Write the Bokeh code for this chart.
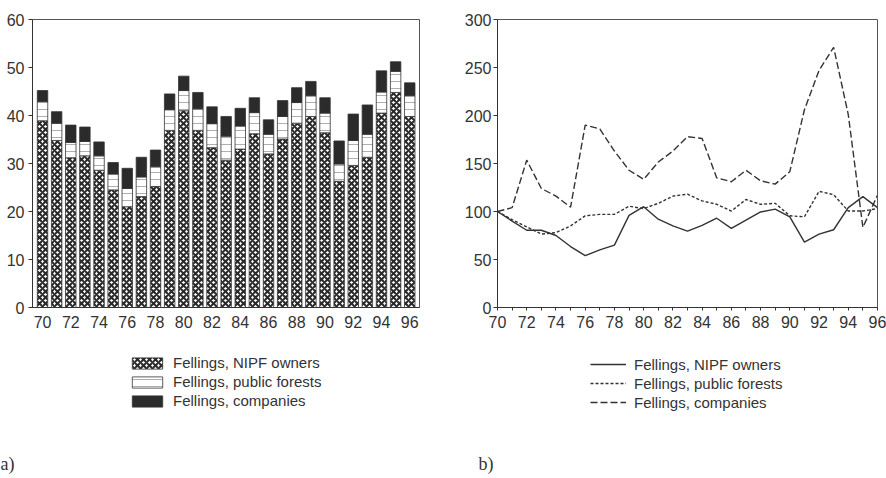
from bokeh.plotting import figure
from bokeh.layouts import row, column
from bokeh.models import (ColumnDataSource, Range1d, FixedTicker, Legend,
                          LegendItem, Label)
from bokeh.embed import file_html
from bokeh.resources import INLINE

# Years 1970-1996, shown as two-digit labels
years = list(range(70, 97))
x_ticks = list(range(70, 97, 2))
x_minor = list(range(71, 96, 2))

# Panel a) fellings by owner group (stacked)
nipf = [38.9, 34.8, 31.2, 31.6, 28.6, 24.5, 21.0, 23.1, 25.2, 36.9, 41.0, 36.9,
        33.3, 30.7, 33.0, 36.2, 32.0, 35.1, 38.4, 39.8, 36.4, 26.3, 29.6, 31.3,
        40.5, 44.8, 39.8]
public = [4.0, 3.6, 3.2, 3.0, 3.0, 3.3, 3.8, 4.1, 4.1, 4.3, 4.2, 4.5, 5.0, 5.0,
          4.8, 4.4, 4.1, 4.7, 4.3, 4.3, 4.1, 3.6, 5.2, 4.8, 4.4, 4.4, 4.3]
companies = [2.3, 2.4, 3.6, 3.0, 2.9, 2.4, 4.2, 4.1, 3.5, 3.3, 3.0, 3.4, 3.5,
             4.1, 3.7, 3.1, 3.0, 3.3, 3.1, 3.0, 3.2, 4.8, 5.5, 6.1, 4.4, 2.0, 2.7]
a_yticks = [0, 10, 20, 30, 40, 50, 60]

# Panel b) index series, 1970 = 100
idx_nipf = [100, 90, 80.5, 80.5, 75, 63.5, 54, 60, 65, 96, 105, 92, 85, 79.5,
            85.5, 93, 82.5, 91, 99.5, 102.5, 94.5, 68, 76.5, 81, 104, 115.5, 104]
idx_public = [100, 91.5, 84, 76.5, 78, 85, 95.5, 97, 97, 105.5, 103, 108.5,
              116, 118, 111, 107.5, 100.5, 112.5, 107.5, 108.5, 95.5, 94.5,
              121, 117.5, 100.5, 100.5, 103]
idx_companies = [100, 104, 153.5, 124, 116, 104.5, 190, 186, 163, 143, 133.5,
                 151.5, 163, 178, 176, 135, 131, 143, 132, 128.5, 141.5, 206,
                 247, 271, 201, 83.5, 117]
b_yticks = [0, 50, 100, 150, 200, 250, 300]

labels = ["Fellings, NIPF owners", "Fellings, public forests",
          "Fellings, companies"]

FONT = "Liberation Sans"
SERIF = "Liberation Serif"
INK = "#333333"
NAN = float("nan")

# fill / hatch styles of the three owner groups
bar_styles = [
    dict(fill_color="white", hatch_pattern="diagonal_cross",
         hatch_color="#2a2a2a", hatch_scale=6, hatch_weight=2.0),
    dict(fill_color="white", hatch_pattern="horizontal_line",
         hatch_color="#9a9a9a", hatch_scale=7, hatch_weight=0.8),
    dict(fill_color="#2b2b2b", hatch_pattern="blank",
         hatch_color="#2b2b2b", hatch_scale=6, hatch_weight=1),
]
line_styles = [dict(line_dash="solid"), dict(line_dash="3 2"),
               dict(line_dash="7 3")]


def base_style(p):
    p.xgrid.visible = False
    p.ygrid.visible = False
    p.outline_line_color = "#555555"
    p.outline_line_width = 1
    p.background_fill_color = "white"
    p.border_fill_color = "white"
    for ax in p.axis:
        ax.axis_line_color = INK
        ax.axis_line_width = 1
        ax.major_tick_line_color = INK
        ax.minor_tick_line_color = INK
        ax.major_label_text_font = FONT
        ax.major_label_text_font_size = "16px"
        ax.major_label_text_color = INK
        ax.minor_tick_in = 0
        ax.minor_tick_out = 0


def key_panel(width):
    # blank strip under a chart that carries its legend and panel tag
    k = figure(width=width, height=138, title=None,
               x_range=Range1d(0, 1), y_range=Range1d(0, 1),
               output_backend="svg", toolbar_location=None,
               min_border=0, x_axis_location=None, y_axis_location=None)
    k.xgrid.visible = False
    k.ygrid.visible = False
    k.outline_line_color = None
    k.background_fill_color = "white"
    k.border_fill_color = "white"
    return k


def make_legend(items, loc, glyph_w, standoff):
    return Legend(items=items, location=loc, margin=0, padding=0, spacing=0,
                  glyph_width=glyph_w, glyph_height=14, label_height=19,
                  label_standoff=standoff, border_line_color=None,
                  background_fill_alpha=0,
                  label_text_font=FONT, label_text_font_size="15px",
                  label_text_color=INK)


def panel_tag(text, x, y):
    return Label(text=text, x=x, y=y, x_units="screen", y_units="screen",
                 text_font=SERIF, text_font_size="18px", text_color=INK,
                 text_baseline="alphabetic", text_align="left")


# ---- a) stacked bars ----
pa = figure(width=450, height=340, title=None,
            x_range=Range1d(69.29, 96.69), y_range=Range1d(0, 60),
            output_backend="svg", toolbar_location=None,
            min_border_left=32, min_border_right=31,
            min_border_top=12, min_border_bottom=33)
base_style(pa)
pa.xaxis.ticker = FixedTicker(ticks=x_ticks)
pa.xaxis.major_tick_in = 0
pa.xaxis.major_tick_out = 0
pa.xaxis.major_label_standoff = 8
pa.yaxis.ticker = FixedTicker(ticks=a_yticks)
pa.yaxis.major_tick_in = 0
pa.yaxis.major_tick_out = 4
pa.yaxis.major_label_standoff = 4

src = ColumnDataSource(dict(year=years, nipf=nipf, public=public,
                            companies=companies))
pa.vbar_stack(["nipf", "public", "companies"], x="year", width=0.74,
              source=src, line_color=INK, line_width=0.8,
              fill_color=[s["fill_color"] for s in bar_styles],
              hatch_pattern=[s["hatch_pattern"] for s in bar_styles],
              hatch_color=[s["hatch_color"] for s in bar_styles],
              hatch_scale=[s["hatch_scale"] for s in bar_styles],
              hatch_weight=[s["hatch_weight"] for s in bar_styles])

# legend carriers: one undrawn (NaN) row each, only their styles are used
ka = key_panel(450)
key_bars = [ka.vbar(x=[NAN], top=[NAN], width=0.5, line_color=INK,
                    line_width=0.8, **s) for s in bar_styles]
ka.add_layout(make_legend(
    [LegendItem(label=l, renderers=[r]) for l, r in zip(labels, key_bars)],
    (128, 68), 38, 7))
ka.add_layout(panel_tag("a)", 0, 14.5))

# ---- b) index lines ----
pb = figure(width=436, height=340, title=None,
            x_range=Range1d(70, 96), y_range=Range1d(0, 300),
            output_backend="svg", toolbar_location=None,
            min_border_left=47, min_border_right=9,
            min_border_top=19, min_border_bottom=31)
base_style(pb)
pb.xaxis.ticker = FixedTicker(ticks=x_ticks, minor_ticks=x_minor)
pb.xaxis.major_tick_in = 0
pb.xaxis.major_tick_out = 3
pb.xaxis.minor_tick_out = 3
pb.xaxis.major_label_standoff = 5
pb.yaxis.ticker = FixedTicker(ticks=b_yticks)
pb.yaxis.major_tick_in = 0
pb.yaxis.major_tick_out = 4
pb.yaxis.major_label_standoff = 2

for series, st in zip([idx_nipf, idx_public, idx_companies], line_styles):
    pb.line(years, series, line_color=INK, line_width=1.4, **st)

kb = key_panel(436)
key_lines = [kb.line(x=[NAN, NAN], y=[NAN, NAN], line_color=INK,
                     line_width=1.4, **st) for st in line_styles]
kb.add_layout(make_legend(
    [LegendItem(label=l, renderers=[r]) for l, r in zip(labels, key_lines)],
    (140, 66.5), 36, 8))
kb.add_layout(panel_tag("b)", 28, 14.5))

layout = column(row(pa, pb, spacing=0), row(ka, kb, spacing=0), spacing=0)
open("out.html", "w").write(file_html(layout, INLINE))
